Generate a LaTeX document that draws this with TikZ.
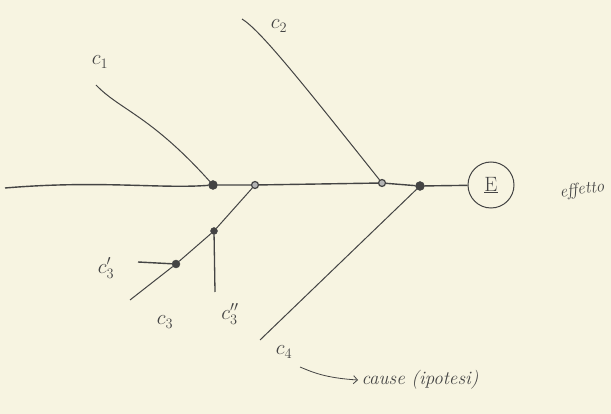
\documentclass[tikz,border=0pt]{standalone}
\usetikzlibrary{arrows.meta}
\definecolor{paper}{HTML}{F7F4E1}
\definecolor{ink}{HTML}{444444}
\begin{document}
\begin{tikzpicture}[x=1pt,y=-1pt,
  bone/.style={draw=ink, line width=1pt},
  spine/.style={draw=ink, line width=1.4pt},
  bigdot/.style={circle, fill=ink, draw=ink, inner sep=0pt, minimum size=9pt},
  smalldot/.style={circle, fill=ink!40, draw=ink, line width=1.2pt, inner sep=0pt, minimum size=7pt},
  lbl/.style={text=ink, font=\fontsize{22}{24}\selectfont},
  effect/.style={circle, draw=ink, line width=1pt, minimum size=46pt, inner sep=0pt, text=ink, font=\fontsize{22}{24}\selectfont}]
\fill[paper] (0,0) rectangle (611,414);
\useasboundingbox (0,0) rectangle (611,414);
% junction points
\node[bigdot] (d1) at (213,185) {};
\node[smalldot] (d2) at (255,185) {};
\node[smalldot] (d3) at (382,183) {};
\node[bigdot] (d4) at (420,186) {};
\node[bigdot, minimum size=7pt] (d5) at (214,231) {};
\node[bigdot, minimum size=8pt] (d6) at (176,264) {};
% effect
\node[effect] (E) at (491,185) {$\underline{\mathrm{E}}$};
\node[lbl, font=\fontsize{17}{19}\selectfont\itshape, rotate=8] (eff) at (582,190) {effetto};
% free ends
\coordinate (s0) at (5,188);
\coordinate (c1e) at (96,85);
\coordinate (c2e) at (242,19);
\coordinate (c3e) at (130,300);
\coordinate (c4e) at (260,340);
\coordinate (c3ae) at (138,262);
\coordinate (c3be) at (215,292);
% spine
\draw[spine] (s0) .. controls (100,180) and (160,189) .. (d1);
\draw[spine] (d1) -- (d2) -- (d3) -- (d4) -- (E);
% bones
\draw[bone] (c1e) .. controls (120,110) and (150,115) .. (d1);
\draw[bone] (c2e) .. controls (260,30) and (300,80) .. (d3);
\draw[bone] (c3e) -- (d6) -- (d5) -- (d2);
\draw[bone] (c4e) -- (d4);
\draw[bone, line width=1.4pt] (c3ae) -- (d6);
\draw[bone, line width=1.3pt] (d5) -- (c3be);
% labels
\node[lbl] (l1) at (100,62) {$c_1$};
\node[lbl] (l2) at (279,26) {$c_2$};
\node[lbl] (l3a) at (106,268) {$c_3'$};
\node[lbl] (l3) at (165,322) {$c_3$};
\node[lbl] (l3b) at (230,314) {$c_3''$};
\node[lbl] (l4) at (284,352) {$c_4$};
\node[lbl, font=\fontsize{19}{21}\selectfont\itshape] (cause) at (420,380) {cause (ipotesi)};
\draw[draw=ink, line width=0.8pt, -{Straight Barb[length=4pt]}] (300,367) .. controls (312,372) and (325,378) .. (cause.west);
\end{tikzpicture}
\end{document}
